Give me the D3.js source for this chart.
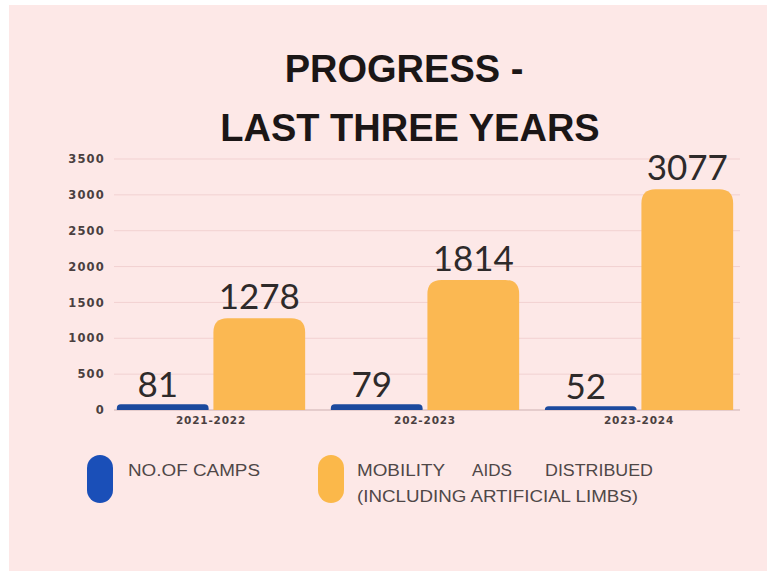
<!DOCTYPE html>
<html>
<head>
<meta charset="utf-8">
<script src="https://cdn.jsdelivr.net/npm/d3@7"></script>
<style>
  html, body { margin: 0; padding: 0; background: #ffffff; }
  svg { display: block; }
</style>
</head>
<body>
<svg id="chart" width="767" height="571"></svg>
<script>
// ---- data ----
const categories = ["2021-2022", "202-2023", "2023-2024"];
const seriesKeys = ["camps", "aids"];
const camps = [81, 79, 52];
const mobilityAids = [1278, 1814, 3077];
const yTickValues = [0, 500, 1000, 1500, 2000, 2500, 3000, 3500];
const titleLines = ["PROGRESS -", "LAST THREE YEARS"];
const legendCamps = "NO.OF CAMPS";
const legendAidsWords = ["MOBILITY", "AIDS", "DISTRIBUED"];
const legendAidsLine2 = "(INCLUDING ARTIFICIAL LIMBS)";

const colors = { camps: "#1c4a9e", aids: "#fbb852" };
const legendColors = { camps: "#1a4fb8", aids: "#fbb84a" };

const rows = categories.map((c, i) => ({ cat: c, camps: camps[i], aids: mobilityAids[i] }));

const svg = d3.select("#chart");

// background panel
svg.append("rect").attr("x", 9).attr("y", 5).attr("width", 758).attr("height", 566).attr("fill", "#fde8e7");

// title
const title = svg.append("text")
  .attr("text-anchor", "middle")
  .attr("font-family", "Liberation Sans, Arial, sans-serif")
  .attr("font-weight", "bold")
  .attr("font-size", 38)
  .attr("fill", "#1b1616");
title.append("tspan").attr("x", 404).attr("y", 82).text(titleLines[0]);
title.append("tspan").attr("x", 410).attr("y", 141).text(titleLines[1]);

// scales
const y = d3.scaleLinear().domain([0, 3500]).range([410, 159]);
const x0 = d3.scaleBand().domain(categories).range([104, 746]).paddingInner(0.12).paddingOuter(0.06);
const x1 = d3.scaleBand().domain(seriesKeys).range([0, x0.bandwidth()]).paddingInner(0.05).paddingOuter(0);

// gridlines
const gridG = svg.append("g");
gridG.selectAll("line").data(yTickValues).join("line")
  .attr("x1", 114).attr("x2", 740)
  .attr("y1", d => y(d)).attr("y2", d => y(d))
  .attr("stroke", d => d === 0 ? "#dcc3c3" : "#f2d1d1")
  .attr("stroke-width", d => d === 0 ? 1.5 : 1);

// y axis labels via d3 axis
const yAxis = d3.axisLeft(y).tickValues(yTickValues).tickSize(0).tickPadding(0).tickFormat(d3.format("d"));
const yAxisG = svg.append("g").attr("transform", "translate(105,0)").call(yAxis);
yAxisG.select(".domain").remove();
yAxisG.selectAll("text")
  .attr("font-family", "DejaVu Sans, sans-serif")
  .attr("font-weight", "bold")
  .attr("font-size", 11.5)
  .attr("letter-spacing", 1.2)
  .attr("fill", "#4a4040");

// x axis labels via d3 axis
const xAxis = d3.axisBottom(x0).tickSize(0).tickPadding(0);
const xAxisG = svg.append("g").attr("transform", "translate(0,417)").call(xAxis);
xAxisG.select(".domain").remove();
xAxisG.selectAll("text")
  .attr("font-family", "DejaVu Sans, sans-serif")
  .attr("font-weight", "bold")
  .attr("font-size", 10.5)
  .attr("letter-spacing", 0.8)
  .attr("fill", "#4a4040");

// rounded-top bar path
function topRoundedBar(x, yTop, w, h, r) {
  r = Math.min(r, h, w / 2);
  return `M${x},${yTop + h}` +
    `V${yTop + r}` +
    `Q${x},${yTop} ${x + r},${yTop}` +
    `H${x + w - r}` +
    `Q${x + w},${yTop} ${x + w},${yTop + r}` +
    `V${yTop + h}Z`;
}

const groups = svg.append("g").selectAll("g").data(rows).join("g")
  .attr("transform", d => `translate(${x0(d.cat)},0)`);

groups.selectAll("path").data(d => seriesKeys.map(k => ({ key: k, value: d[k] }))).join("path")
  .attr("d", d => {
    const h = y(0) - y(d.value);
    return topRoundedBar(x1(d.key), y(d.value), x1.bandwidth(), h, d.key === "aids" ? 14 : 4);
  })
  .attr("fill", d => colors[d.key]);

groups.selectAll("text.val").data(d => seriesKeys.map(k => ({ key: k, value: d[k] }))).join("text")
  .attr("class", "val")
  .attr("x", d => x1(d.key) + x1.bandwidth() / 2 - (d.key === "camps" ? 5 : 0))
  .attr("y", d => y(d.value) - (d.key === "camps" ? 7 : 9))
  .attr("text-anchor", "middle")
  .attr("font-family", "Lato, sans-serif")
  .attr("font-size", 35)
  .attr("fill", "#2e2a2a")
  .text(d => d.value);

// legend
const legend = svg.append("g");
const pillW = 26, pillH = 48, pillY = 455;
legend.append("rect").attr("x", 87).attr("y", pillY).attr("width", pillW).attr("height", pillH)
  .attr("rx", pillW / 2).attr("ry", pillW / 2).attr("fill", legendColors.camps);
legend.append("rect").attr("x", 318).attr("y", pillY).attr("width", pillW).attr("height", pillH)
  .attr("rx", pillW / 2).attr("ry", pillW / 2).attr("fill", legendColors.aids);

const legendFont = { family: "Liberation Sans, Arial, sans-serif", size: 16, fill: "#4f4747" };
legend.append("text").attr("x", 128).attr("y", 476)
  .attr("font-family", legendFont.family).attr("font-size", legendFont.size).attr("fill", legendFont.fill)
  .attr("textLength", 132).attr("lengthAdjust", "spacingAndGlyphs")
  .text(legendCamps);

const wordX = [357, 472, 545];
const wordW = [88, 40, 108];
const l2 = legend.append("text").attr("y", 476)
  .attr("font-family", legendFont.family).attr("font-size", legendFont.size).attr("fill", legendFont.fill);
legendAidsWords.forEach((w, i) => l2.append("tspan").attr("x", wordX[i])
  .attr("textLength", wordW[i]).attr("lengthAdjust", "spacingAndGlyphs").text(w));

legend.append("text").attr("x", 357).attr("y", 502)
  .attr("font-family", legendFont.family).attr("font-size", legendFont.size).attr("fill", legendFont.fill)
  .attr("textLength", 281).attr("lengthAdjust", "spacingAndGlyphs")
  .text(legendAidsLine2);
</script>
</body>
</html>
